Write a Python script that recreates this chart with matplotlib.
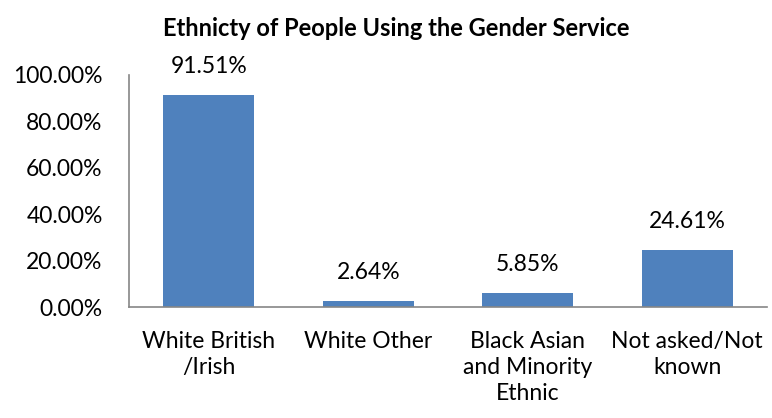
import matplotlib
matplotlib.use("Agg")
import matplotlib.pyplot as plt
from matplotlib.ticker import FuncFormatter, MultipleLocator

plt.rcParams['font.family'] = ['Lato', 'DejaVu Sans']

# data
categories = ['White British\n/Irish', 'White Other', 'Black Asian\nand Minority\nEthnic',
              'Not asked/Not\nknown']
shares = [0.9151, 0.0264, 0.0585, 0.2461]

bar_color = '#4F81BD'
axis_color = '#868686'

fig = plt.figure(figsize=(7.72, 4.18), dpi=100)
ax = fig.add_axes([129/772, 1 - 307/418, (767 - 129)/772, (307 - 75)/418])

x = range(len(categories))
bars = ax.bar(x, shares, width=0.57, color=bar_color)

for b, v in zip(bars, shares):
    ax.annotate('%.2f%%' % (v*100), (b.get_x() + b.get_width()/2, v),
                xytext=(0, 13), textcoords='offset points',
                ha='center', va='bottom', fontsize=16.5)

ax.set_xlim(-0.5, len(categories) - 0.5)
ax.set_ylim(0, 1.0)
ax.yaxis.set_major_locator(MultipleLocator(0.2))
ax.yaxis.set_major_formatter(FuncFormatter(lambda v, p: '%.2f%%' % (v*100)))
ax.set_xticks(list(x))
ax.set_xticklabels(categories, fontsize=16.5, linespacing=1.3)
ax.tick_params(axis='y', length=0, pad=19, labelsize=16.5)
ax.tick_params(axis='x', length=0, pad=17)

for s in ['top', 'right']:
    ax.spines[s].set_visible(False)
for s in ['left', 'bottom']:
    ax.spines[s].set_color(axis_color)
    ax.spines[s].set_linewidth(1.2)

fig.text(396/772, 1 - 28/418, 'Ethnicty of People Using the Gender Service',
         ha='center', va='center', fontsize=17, fontweight='bold')

plt.savefig('out.png', dpi=100)
